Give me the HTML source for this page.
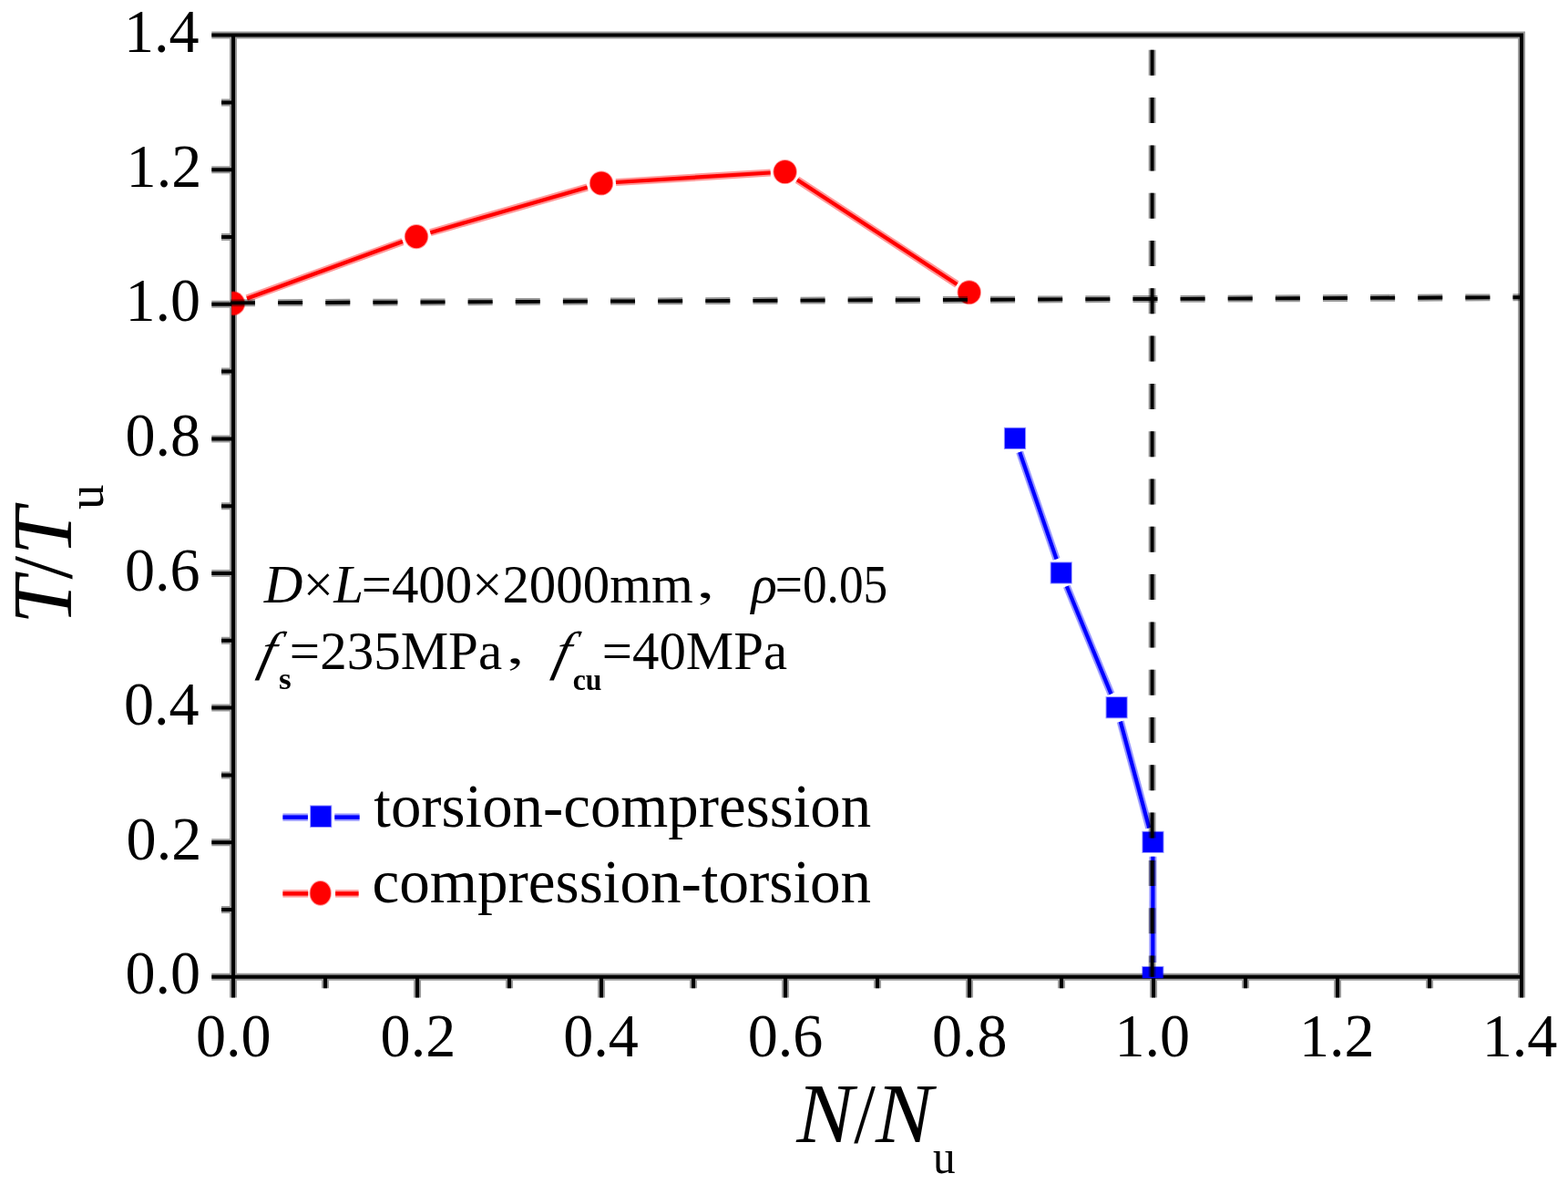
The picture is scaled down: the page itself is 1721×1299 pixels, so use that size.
<!DOCTYPE html><html><head><meta charset="utf-8"><style>html,body{margin:0;padding:0;background:#fff;overflow:hidden}svg{display:block}text{font-family:"Liberation Serif","Noto Serif CJK SC",serif;fill:#000}</style></head><body>
<svg width="1721" height="1299" viewBox="0 0 1721 1299">
<rect width="1721" height="1299" fill="#fff"/>
<defs><clipPath id="pc"><rect x="254.25" y="36.6" width="1417.8" height="1036.7"/></clipPath><clipPath id="pc2"><rect x="253.05" y="38.6" width="1415.0" height="1033.2"/></clipPath></defs>
<g fill="none" stroke="#000"><path d="M256.05 38.6 H1670.05 V1071.8 H256.05 ZM232.3 1071.80H256.05M256.05 1071.8V1094.6M243.0 998.00H256.05M357.05 1071.8V1084.2M232.3 924.20H256.05M458.05 1071.8V1094.6M243.0 850.40H256.05M559.05 1071.8V1084.2M232.3 776.60H256.05M660.05 1071.8V1094.6M243.0 702.80H256.05M761.05 1071.8V1084.2M232.3 629.00H256.05M862.05 1071.8V1094.6M243.0 555.20H256.05M963.05 1071.8V1084.2M232.3 481.40H256.05M1064.05 1071.8V1094.6M243.0 407.60H256.05M1165.05 1071.8V1084.2M232.3 333.80H256.05M1266.05 1071.8V1094.6M243.0 260.00H256.05M1367.05 1071.8V1084.2M232.3 186.20H256.05M1468.05 1071.8V1094.6M243.0 112.40H256.05M1569.05 1071.8V1084.2M232.3 38.60H256.05M1670.05 1071.8V1094.6" stroke-opacity="0.4" stroke-width="8"/><path d="M256.05 38.6 H1670.05 V1071.8 H256.05 ZM232.3 1071.80H256.05M256.05 1071.8V1094.6M243.0 998.00H256.05M357.05 1071.8V1084.2M232.3 924.20H256.05M458.05 1071.8V1094.6M243.0 850.40H256.05M559.05 1071.8V1084.2M232.3 776.60H256.05M660.05 1071.8V1094.6M243.0 702.80H256.05M761.05 1071.8V1084.2M232.3 629.00H256.05M862.05 1071.8V1094.6M243.0 555.20H256.05M963.05 1071.8V1084.2M232.3 481.40H256.05M1064.05 1071.8V1094.6M243.0 407.60H256.05M1165.05 1071.8V1084.2M232.3 333.80H256.05M1266.05 1071.8V1094.6M243.0 260.00H256.05M1367.05 1071.8V1084.2M232.3 186.20H256.05M1468.05 1071.8V1094.6M243.0 112.40H256.05M1569.05 1071.8V1084.2M232.3 38.60H256.05M1670.05 1071.8V1094.6" stroke-width="4"/></g>
<g clip-path="url(#pc)">
<line x1="271.03" y1="327.42" x2="441.97" y2="265.08" stroke="#f00" stroke-opacity="0.4" stroke-width="8.2"/><line x1="271.03" y1="327.42" x2="441.97" y2="265.08" stroke="#f00" stroke-width="4.2"/>
<line x1="472.37" y1="255.16" x2="644.63" y2="205.44" stroke="#f00" stroke-opacity="0.4" stroke-width="8.2"/><line x1="472.37" y1="255.16" x2="644.63" y2="205.44" stroke="#f00" stroke-width="4.2"/>
<line x1="675.97" y1="200.01" x2="845.63" y2="189.49" stroke="#f00" stroke-opacity="0.4" stroke-width="8.2"/><line x1="675.97" y1="200.01" x2="845.63" y2="189.49" stroke="#f00" stroke-width="4.2"/>
<line x1="874.99" y1="197.26" x2="1050.36" y2="311.99" stroke="#f00" stroke-opacity="0.4" stroke-width="8.2"/><line x1="874.99" y1="197.26" x2="1050.36" y2="311.99" stroke="#f00" stroke-width="4.2"/>
<ellipse cx="256.0" cy="332.9" rx="12.3" ry="12.6" fill="#f00" stroke="#f00" stroke-opacity="0.4" stroke-width="2"/>
<ellipse cx="457.0" cy="259.6" rx="12.3" ry="12.6" fill="#f00" stroke="#f00" stroke-opacity="0.4" stroke-width="2"/>
<ellipse cx="660.0" cy="201.0" rx="12.3" ry="12.6" fill="#f00" stroke="#f00" stroke-opacity="0.4" stroke-width="2"/>
<ellipse cx="861.6" cy="188.5" rx="12.3" ry="12.6" fill="#f00" stroke="#f00" stroke-opacity="0.4" stroke-width="2"/>
<ellipse cx="1063.75" cy="320.75" rx="12.3" ry="12.6" fill="#f00" stroke="#f00" stroke-opacity="0.4" stroke-width="2"/>
<line x1="1119.20" y1="496.03" x2="1159.55" y2="613.37" stroke="#00f" stroke-opacity="0.4" stroke-width="8.2"/><line x1="1119.20" y1="496.03" x2="1159.55" y2="613.37" stroke="#00f" stroke-width="4.2"/>
<line x1="1170.84" y1="643.29" x2="1219.51" y2="761.41" stroke="#00f" stroke-opacity="0.4" stroke-width="8.2"/><line x1="1170.84" y1="643.29" x2="1219.51" y2="761.41" stroke="#00f" stroke-width="4.2"/>
<line x1="1229.77" y1="791.65" x2="1261.28" y2="908.40" stroke="#00f" stroke-opacity="0.4" stroke-width="8.2"/><line x1="1229.77" y1="791.65" x2="1261.28" y2="908.40" stroke="#00f" stroke-width="4.2"/>
<line x1="1265.43" y1="939.85" x2="1265.32" y2="1056.00" stroke="#00f" stroke-opacity="0.4" stroke-width="8.2"/><line x1="1265.43" y1="939.85" x2="1265.32" y2="1056.00" stroke="#00f" stroke-width="4.2"/>
<rect x="1102.90" y="469.80" width="22.2" height="22.2" fill="#00f" stroke="#00f" stroke-opacity="0.4" stroke-width="2"/>
<rect x="1153.65" y="617.40" width="22.2" height="22.2" fill="#00f" stroke="#00f" stroke-opacity="0.4" stroke-width="2"/>
<rect x="1214.50" y="765.10" width="22.2" height="22.2" fill="#00f" stroke="#00f" stroke-opacity="0.4" stroke-width="2"/>
<rect x="1254.35" y="912.75" width="22.2" height="22.2" fill="#00f" stroke="#00f" stroke-opacity="0.4" stroke-width="2"/>
<rect x="1254.20" y="1060.90" width="22.2" height="22.2" fill="#00f" stroke="#00f" stroke-opacity="0.4" stroke-width="2"/>
</g><g clip-path="url(#pc2)">
<line x1="253.00" y1="332.39" x2="1672.00" y2="326.18" stroke="#000" stroke-opacity="0.4" stroke-width="7.9" stroke-dasharray="27 25.13"/><line x1="253.00" y1="332.39" x2="1672.00" y2="326.18" stroke="#000" stroke-width="3.9" stroke-dasharray="27 25.13"/>
<line x1="1264.60" y1="2.50" x2="1264.60" y2="1075.00" stroke="#000" stroke-opacity="0.4" stroke-width="7.9" stroke-dasharray="28 24.3"/><line x1="1264.60" y1="2.50" x2="1264.60" y2="1075.00" stroke="#000" stroke-width="3.9" stroke-dasharray="28 24.3"/>
</g>
<text transform="translate(137.49 1090.40) scale(0.965 1)" font-size="68.5">0.0</text>
<text transform="translate(215.04 1159.30) scale(0.965 1)" font-size="68.5">0.0</text>
<text transform="translate(138.62 942.80) scale(0.965 1)" font-size="68.5">0.2</text>
<text transform="translate(417.60 1159.30) scale(0.965 1)" font-size="68.5">0.2</text>
<text transform="translate(136.00 795.20) scale(0.965 1)" font-size="68.5">0.4</text>
<text transform="translate(618.29 1159.30) scale(0.965 1)" font-size="68.5">0.4</text>
<text transform="translate(136.94 647.60) scale(0.965 1)" font-size="68.5">0.6</text>
<text transform="translate(820.76 1159.30) scale(0.965 1)" font-size="68.5">0.6</text>
<text transform="translate(137.49 500.00) scale(0.965 1)" font-size="68.5">0.8</text>
<text transform="translate(1023.04 1159.30) scale(0.965 1)" font-size="68.5">0.8</text>
<text transform="translate(137.49 352.40) scale(0.965 1)" font-size="68.5">1.0</text>
<text transform="translate(1223.39 1159.30) scale(0.965 1)" font-size="68.5">1.0</text>
<text transform="translate(138.62 204.80) scale(0.965 1)" font-size="68.5">1.2</text>
<text transform="translate(1425.95 1159.30) scale(0.965 1)" font-size="68.5">1.2</text>
<text transform="translate(136.00 57.20) scale(0.965 1)" font-size="68.5">1.4</text>
<text transform="translate(1626.65 1159.30) scale(0.965 1)" font-size="68.5">1.4</text>
<text x="874.19" y="1252.80" font-size="94" font-style="italic">N</text>
<text transform="translate(937.30 1252.80) scale(0.9075 1)" font-size="94">/</text>
<text x="961.09" y="1252.80" font-size="94" font-style="italic">N</text>
<text transform="translate(1023.95 1286.80) scale(0.93 1)" font-size="53">u</text>
<g transform="translate(0 0) rotate(-90)">
<text x="-684.95" y="78.40" font-size="94" font-style="italic">T</text>
<text transform="translate(-635.40 78.40) scale(0.9802 1)" font-size="94">/</text>
<text x="-609.35" y="78.40" font-size="94" font-style="italic">T</text>
<text transform="translate(-558.92 112.80) scale(0.98 1)" font-size="56">u</text>
</g>
<text x="289.86" y="661.20" font-size="59" font-style="italic">D</text>
<text x="332.73" y="661.20" font-size="59">×</text>
<text x="366.29" y="661.20" font-size="59" font-style="italic">L</text>
<text transform="translate(396.67 661.20) scale(0.9984 1)" font-size="59">=400×2000mm</text>
<text transform="translate(762.45 654.64) scale(1.25 0.72)" font-size="59">，</text>
<text x="824.50" y="661.20" font-size="59" font-style="italic">ρ</text>
<text transform="translate(850.84 661.20) scale(0.9042 1)" font-size="59">=0.05</text>
<text transform="translate(281.9 734.2) skewX(-14)" font-size="59" font-style="italic">f</text>
<text transform="translate(305.93 756.40) scale(1.0376 1)" font-size="34" font-weight="bold">s</text>
<text x="317.86" y="734.20" font-size="59">=235MPa</text>
<text transform="translate(553.65 727.24) scale(1.25 0.72)" font-size="59">，</text>
<text transform="translate(605.4 734.2) skewX(-14)" font-size="59" font-style="italic">f</text>
<text transform="translate(628.72 756.60) scale(0.9334 1)" font-size="34" font-weight="bold">cu</text>
<text transform="translate(660.87 734.20) scale(0.9971 1)" font-size="59">=40MPa</text>
<line x1="310.40" y1="896.60" x2="337.90" y2="896.60" stroke="#00f" stroke-opacity="0.4" stroke-width="8.4"/><line x1="310.40" y1="896.60" x2="337.90" y2="896.60" stroke="#00f" stroke-width="4.4"/>
<line x1="367.30" y1="896.60" x2="394.60" y2="896.60" stroke="#00f" stroke-opacity="0.4" stroke-width="8.4"/><line x1="367.30" y1="896.60" x2="394.60" y2="896.60" stroke="#00f" stroke-width="4.4"/>
<rect x="341.1" y="884.4" width="22.2" height="22.6" fill="#00f" stroke="#00f" stroke-opacity="0.4" stroke-width="2"/>
<line x1="310.40" y1="980.40" x2="338.20" y2="980.40" stroke="#f00" stroke-opacity="0.4" stroke-width="8.4"/><line x1="310.40" y1="980.40" x2="338.20" y2="980.40" stroke="#f00" stroke-width="4.4"/>
<line x1="368.10" y1="980.40" x2="393.60" y2="980.40" stroke="#f00" stroke-opacity="0.4" stroke-width="8.4"/><line x1="368.10" y1="980.40" x2="393.60" y2="980.40" stroke="#f00" stroke-width="4.4"/>
<ellipse cx="351.7" cy="979.9" rx="11.2" ry="12.9" fill="#f00" stroke="#f00" stroke-opacity="0.4" stroke-width="2"/>
<text transform="translate(410.35 906.60) scale(0.9978 1)" font-size="67">torsion-compression</text>
<text transform="translate(408.45 990.20) scale(1.0012 1)" font-size="67">compression-torsion</text>
</svg></body></html>
